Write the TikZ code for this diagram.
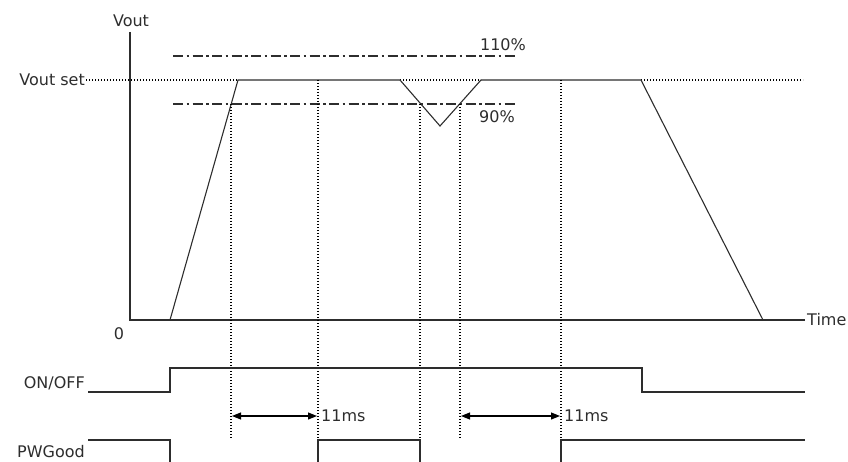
\documentclass[tikz,border=0pt]{standalone}
\usepackage{fontspec}
\setmainfont{DejaVu Sans}
\usetikzlibrary{arrows.meta, positioning, calc}
\definecolor{sigdark}{RGB}{45, 45, 45}
\tikzset{
	sig/.style={line width=1.1pt, color=sigdark},
	guide/.style={line width=1.3pt, color=black, dash pattern=on 1.4pt off 1.6pt},
	limit/.style={line width=1.1pt, color=sigdark, dash pattern=on 10pt off 3.5pt on 2.5pt off 3.5pt},
	lbl/.style={font=\fontsize{16}{18}\selectfont, text=sigdark, inner sep=1pt},
	gap/.style={{Triangle[length=9pt,width=7pt]}-{Triangle[length=9pt,width=7pt]}, line width=1.1pt, color=black},
}

\begin{document}
\begin{tikzpicture}[x=1pt,y=-1pt]
	\useasboundingbox (0,0) rectangle (848,462);

	% axes
	\coordinate (origin) at (130,320);
	\coordinate (ytop) at (130,32);
	\coordinate (xend) at (805,320);
	\draw[sig] (ytop) -- (origin) -- (xend);
	\node[lbl] (vout) at (131,21) {Vout};
	\node[lbl, right=1pt of xend] (time) {Time};
	\node[lbl] (zero) at (119,334) {0};

	% output voltage
	\coordinate (rise0) at (170,320);
	\coordinate (rise1) at (238,80);
	\coordinate (dip0) at (400,80);
	\coordinate (dipmin) at (440,126);
	\coordinate (dip1) at (481,80);
	\coordinate (fall0) at (641,80);
	\coordinate (fall1) at (763,320);
	\node[lbl, anchor=east] (voutset) at (86,80) {Vout set};
	\draw[guide] (voutset.east) -- (rise1);
	\draw[guide] (dip0) -- (dip1);
	\draw[guide] (fall0) -- (803,80);
	\draw[sig] (rise0) -- (rise1) -- (dip0) -- (dipmin) -- (dip1) -- (fall0) -- (fall1);

	% limits
	\draw[limit] (173,56) -- (518,56);
	\draw[limit] (173,104) -- (518,104);
	\node[lbl] (hi) at (503,45) {110\%};
	\node[lbl] (lo) at (497,117) {90\%};

	% timing guides
	\foreach \x/\ya/\yb in {231/104/438, 318/80/462, 420/104/462, 460/104/438, 561/80/462}
		\draw[guide] (\x,\ya) -- (\x,\yb);

	% ON/OFF
	\node[lbl, anchor=east] (onoff) at (86,383) {ON/OFF};
	\draw[sig] (88,392) -- (170,392) -- (170,368) -- (642,368) -- (642,392) -- (805,392);

	% PWGood
	\node[lbl, anchor=east] (pwgood) at (86,452) {PWGood};
	\draw[sig] (88,440) -- (170,440) -- (170,462);
	\draw[sig] (318,462) -- (318,440) -- (420,440) -- (420,462);
	\draw[sig] (561,462) -- (561,440) -- (805,440);

	% delays
	\coordinate (d1a) at (232,416);
	\coordinate (d1b) at (317,416);
	\coordinate (d2a) at (461,416);
	\coordinate (d2b) at (560,416);
	\draw[gap] (d1a) -- (d1b);
	\draw[gap] (d2a) -- (d2b);
	\node[lbl, anchor=west] (ms1) at (320,416) {11ms};
	\node[lbl, anchor=west] (ms2) at (563,416) {11ms};
\end{tikzpicture}
\end{document}
